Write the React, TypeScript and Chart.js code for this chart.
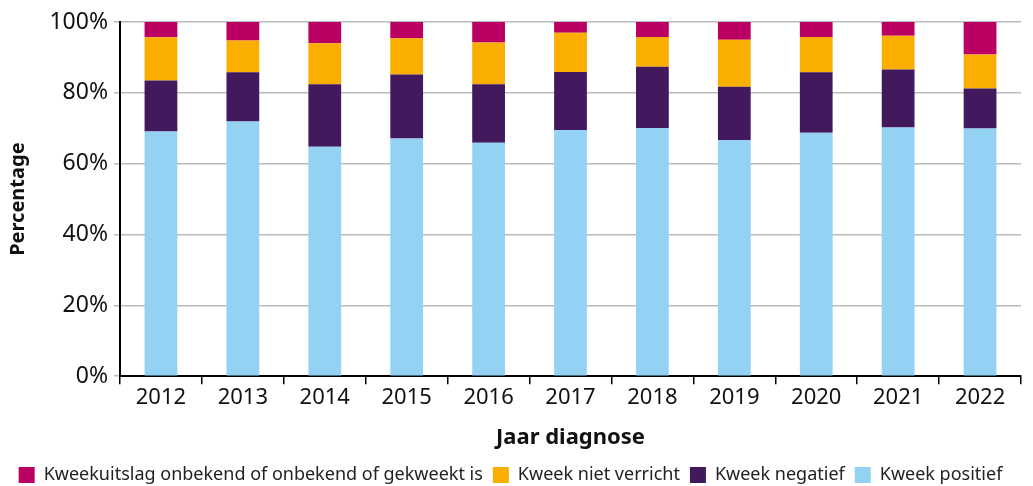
import React, { useEffect, useRef } from "react";
import { Chart, registerables } from "chart.js";

Chart.register(...registerables);

const years = ["2012", "2013", "2014", "2015", "2016", "2017", "2018", "2019", "2020", "2021", "2022"];
const positief = [69.1, 71.9, 64.8, 67.1, 65.9, 69.5, 70.1, 66.7, 68.7, 70.2, 69.9];
const negatief = [14.4, 13.9, 17.6, 18.1, 16.5, 16.4, 17.3, 15.0, 17.1, 16.4, 11.3];
const nietVerricht = [12.2, 9.0, 11.6, 10.2, 11.8, 11.1, 8.4, 13.3, 10.0, 9.5, 9.6];
const onbekend = [4.3, 5.2, 6.0, 4.6, 5.8, 3.0, 4.2, 5.0, 4.2, 3.9, 9.2];

const FONT = "'Noto Sans', 'Open Sans', sans-serif";

export default function App() {
  const ref = useRef<HTMLCanvasElement | null>(null);
  useEffect(() => {
    document.body.style.margin = "0";
    if (!ref.current) return;
    const chart = new Chart(ref.current, {
      type: "bar",
      data: {
        labels: years,
        datasets: [
          { label: "Kweek positief", data: positief, backgroundColor: "#93D2F3" },
          { label: "Kweek negatief", data: negatief, backgroundColor: "#42195C" },
          { label: "Kweek niet verricht", data: nietVerricht, backgroundColor: "#F9AE00" },
          { label: "Kweekuitslag onbekend of onbekend of gekweekt is", data: onbekend, backgroundColor: "#BA0062" },
        ],
      },
      options: {
        responsive: false,
        animation: false,
        layout: { padding: { left: 0, right: 12, top: 22, bottom: -8 } },
        datasets: { bar: { categoryPercentage: 0.8, barPercentage: 0.5 } },
        plugins: {
          legend: {
            position: "bottom",
            reverse: true,
            labels: {
              boxWidth: 16,
              boxHeight: 16,
              padding: 10,
              color: "#222",
              font: { family: FONT, size: 18 },
            },
          },
          tooltip: { enabled: false },
        },
        scales: {
          x: {
            stacked: true,
            offset: true,
            grid: { drawOnChartArea: false, offset: true, tickLength: 8, color: "#000", lineWidth: 1.5 },
            border: { color: "#000", width: 2 },
            ticks: { color: "#111", font: { family: FONT, size: 22 }, padding: 0 },
            title: { display: true, text: "Jaar diagnose", color: "#111", font: { family: FONT, size: 22, weight: "bold" }, padding: { top: 14, bottom: 5 } },
          },
          y: {
            stacked: true,
            min: 0,
            max: 100,
            afterFit: (s: any) => { s.width = 120; },
            grid: { color: "#BBBBBB", lineWidth: 1.5, tickLength: 6 },
            border: { color: "#000", width: 2 },
            ticks: {
              stepSize: 20,
              color: "#111",
              padding: 6,
              font: { family: FONT, size: 23 },
              callback: (v: any) => v + "%",
            },
            title: { display: true, text: "Percentage", color: "#111", font: { family: FONT, size: 20, weight: "bold" }, padding: { top: 6, bottom: 2 } },
          },
        },
      },
    });
    return () => chart.destroy();
  }, []);
  return <canvas ref={ref} width={1033} height={486} style={{ display: "block" }} />;
}
